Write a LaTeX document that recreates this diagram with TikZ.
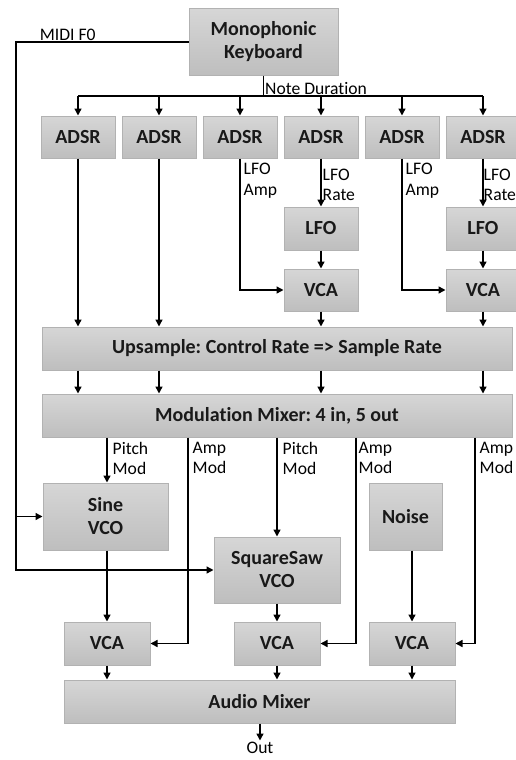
\documentclass[tikz,border=0pt]{standalone}
\usepackage{fontspec}
\setmainfont{Carlito}[Ligatures=NoCommon]
\usepackage{tikz}
\usetikzlibrary{positioning, arrows.meta, calc}
\frenchspacing
\definecolor{boxtop}{HTML}{D6D6D6}
\definecolor{boxbot}{HTML}{BEBEBE}
\definecolor{boxline}{HTML}{B2B2B2}
\tikzset{
  block/.style={rectangle, draw=boxline, line width=1pt, top color=boxtop, bottom color=boxbot, text centered, align=center, font=\fontsize{20}{23}\selectfont\bfseries, text=black!90},
  adsrbox/.style={block, minimum width=74pt, minimum height=42pt},
  widebar/.style={block, minimum width=470pt, minimum height=43pt},
  vcabox/.style={block, minimum width=86pt, minimum height=43pt},
  lbl/.style={font=\fontsize{17.6}{20.5}\selectfont, align=left, inner sep=1pt},
  wire/.style={line width=1.4pt},
  arrow/.style={wire, -{Triangle[width=7pt,length=7pt]}}
}
\begin{document}
\begin{tikzpicture}[x=1pt, y=1pt, node distance=6pt]
        \useasboundingbox (0,0) rectangle (515,-760);

        % keyboard and envelope row
        \node (kbd) [block, minimum width=149pt, minimum height=66pt] at (263.5,-42) {Monophonic\\Keyboard};
        \node (adsr1) [adsrbox] at (78,-137) {ADSR};
        \node (adsr2) [adsrbox, right=of adsr1] {ADSR};
        \node (adsr3) [adsrbox, right=of adsr2] {ADSR};
        \node (adsr4) [adsrbox, right=of adsr3] {ADSR};
        \node (adsr5) [adsrbox, right=of adsr4] {ADSR};
        \node (adsr6) [adsrbox, right=of adsr5] {ADSR};

        % LFO branches
        \node (lfo1) [adsrbox, minimum height=43pt, below=48pt of adsr4] {LFO};
        \node (lvca1) [adsrbox, below=18pt of lfo1] {VCA};
        \node (lfo2) [adsrbox, minimum height=43pt, below=48pt of adsr6] {LFO};
        \node (lvca2) [adsrbox, below=18pt of lfo2] {VCA};

        % control to audio rate
        \node (upsample) [widebar] at (277,-348.5) {Upsample: Control Rate => Sample Rate};
        \node (modmix) [widebar, below=23pt of upsample] {Modulation Mixer: 4 in, 5 out};

        % sources
        \node (sine) [block, minimum width=125pt, minimum height=67pt] at (105.5,-516.5) {Sine\\VCO};
        \node (sqsaw) [block, minimum width=126pt, minimum height=66pt] at (277,-570) {SquareSaw\\VCO};
        \node (noise) [block, minimum width=73pt, minimum height=67pt] at (405.5,-516.5) {Noise};

        % output stage
        \node (vcaa) [vcabox] at (107,-643.5) {VCA};
        \node (vcab) [vcabox] at (277,-643.5) {VCA};
        \node (vcac) [vcabox] at (412,-643.5) {VCA};
        \node (audiomix) [block, minimum width=391pt, minimum height=43pt] at (259.5,-701.5) {Audio Mixer};
        \node (out) [lbl, below=17pt of audiomix.south -| vcab, xshift=-17pt] {Out};

        \coordinate (midicorner) at (16,-42);
        \coordinate (bus) at (0,-96);
        \coordinate (ampa) at (188,0);
        \coordinate (ampb) at (356,0);
        \coordinate (ampc) at (475,0);

        % MIDI F0 to the oscillators
        \draw [arrow] (kbd.west) -- node[lbl, above, pos=0.7] {MIDI F0} (midicorner) |- (sine.west);
        \draw [arrow] (midicorner |- sine.west) |- (sqsaw.west);

        % Note Duration bus
        \draw [wire] (kbd.south) -- node[lbl, right, pos=0.62] {Note Duration} (kbd.south |- bus);
        \draw [wire] (adsr1 |- bus) -- (adsr6 |- bus);
        \foreach \i in {1,...,6}
            \draw [arrow] (adsr\i |- bus) -- (adsr\i);

        % envelopes to upsampler
        \draw [arrow] (adsr1) -- (adsr1 |- upsample.north);
        \draw [arrow] (adsr2) -- (adsr2 |- upsample.north);
        \draw [arrow] (adsr3.south) node[lbl, anchor=north west, xshift=2pt, yshift=-3pt] {LFO\\Amp} |- (lvca1);
        \draw [arrow] (adsr5.south) node[lbl, anchor=north west, xshift=2pt, yshift=-3pt] {LFO\\Amp} |- (lvca2);
        \draw [arrow] (adsr4) -- node[lbl, right, pos=0.55] {LFO\\Rate} (lfo1);
        \draw [arrow] (adsr6) -- node[lbl, right, pos=0.55, xshift=-1pt] {LFO\\Rate} (lfo2);
        \draw [arrow] (lfo1) -- (lvca1);
        \draw [arrow] (lfo2) -- (lvca2);
        \draw [arrow] (lvca1) -- (lvca1 |- upsample.north);
        \draw [arrow] (lvca2) -- (lvca2 |- upsample.north);

        % upsampler to modulation mixer
        \foreach \n in {adsr1, adsr2, lvca1, lvca2}
            \draw [arrow] (\n |- upsample.south) -- (\n |- modmix.north);

        % modulation outputs
        \draw [arrow] (vcaa |- modmix.south) node[lbl, anchor=north west, xshift=4pt, yshift=-3pt] {Pitch\\Mod} -- (vcaa |- sine.north);
        \draw [arrow] (sqsaw |- modmix.south) node[lbl, anchor=north west, xshift=4pt, yshift=-3pt] {Pitch\\Mod} -- (sqsaw);
        \draw [arrow] (modmix.south -| ampa) node[lbl, anchor=north west, xshift=3pt, yshift=-3pt] {Amp\\Mod} |- (vcaa);
        \draw [arrow] (modmix.south -| ampb) node[lbl, anchor=north west, xshift=1pt, yshift=-3pt] {Amp\\Mod} |- (vcab);
        \draw [arrow] (modmix.south -| ampc) node[lbl, anchor=north west, xshift=3pt, yshift=-3pt] {Amp\\Mod} |- (vcac);

        % audio path
        \draw [arrow] (vcaa |- sine.south) -- (vcaa);
        \draw [arrow] (sqsaw) -- (vcab);
        \draw [arrow] (vcac |- noise.south) -- (vcac);
        \foreach \n in {vcaa, vcab, vcac}
            \draw [arrow] (\n) -- (\n |- audiomix.north);
        \draw [arrow] (audiomix.south -| out) -- (out);

    \end{tikzpicture}
\end{document}
